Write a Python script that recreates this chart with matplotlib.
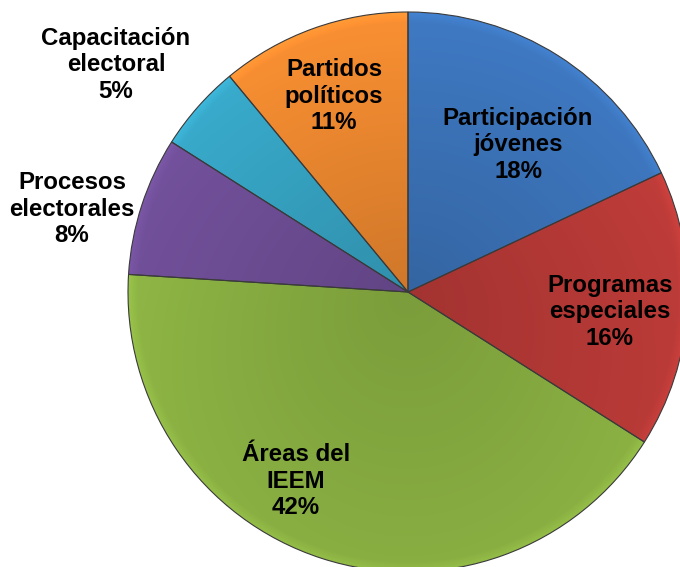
import matplotlib
matplotlib.use('Agg')
import matplotlib.pyplot as plt
import numpy as np
from matplotlib.colors import to_rgb

labels = ['Participación\njóvenes', 'Programas\nespeciales', 'Áreas del\nIEEM',
          'Procesos\nelectorales', 'Capacitación\nelectoral', 'Partidos\npolíticos']
values = [18, 16, 42, 8, 5, 11]
colors = ['#3c74ba', '#bb3b38', '#8db444', '#704f98', '#37a5c5', '#ee8930']

# label centres, in pie-radius units
label_xy = [(0.393, 0.525), (0.721, -0.071), (-0.40, -0.675),
            (-1.20, 0.296), (-1.043, 0.811), (-0.264, 0.70)]

plt.rcParams['font.family'] = ['Liberation Sans', 'DejaVu Sans']

fig = plt.figure(figsize=(6.8, 5.67), dpi=100)
ax = fig.add_axes([0, 0, 1, 1])
x0, x1, y0, y1 = -408 / 280, 272 / 280, -275 / 280, 292 / 280

wedges, _ = ax.pie(values, colors=colors, startangle=90, counterclock=False,
                   radius=1, wedgeprops=dict(linewidth=0.8, edgecolor='#3a3a3a'))

# shaded fill (darker centre, lighter rim) clipped to each wedge
nx, ny = 680, 567
X, Y = np.meshgrid(np.linspace(x0, x1, nx), np.linspace(y1, y0, ny))
R = np.hypot(X, Y)
shade = 0.87 + 0.14 * R + 0.04 * Y + 0.08 * np.clip((R - 0.965) / 0.035, 0, 1)
for w, c in zip(wedges, colors):
    w.set_facecolor('none')
    w.set_zorder(3)
    rgb = np.array(to_rgb(c))
    img = np.clip(rgb[None, None, :] * shade[..., None], 0, 1)
    im = ax.imshow(img, extent=(x0, x1, y0, y1), origin='upper', zorder=1,
                   interpolation='bilinear')
    im.set_clip_path(w)

for (x, y), lab, v in zip(label_xy, labels, values):
    ax.text(x, y, f'{lab}\n{v}%', ha='center', va='center', fontsize=17.3,
            fontweight='bold', linespacing=1.2, zorder=5)

ax.set_aspect('auto')
ax.set_xlim(x0, x1)
ax.set_ylim(y0, y1)
ax.axis('off')
fig.savefig('out.png', dpi=100)
